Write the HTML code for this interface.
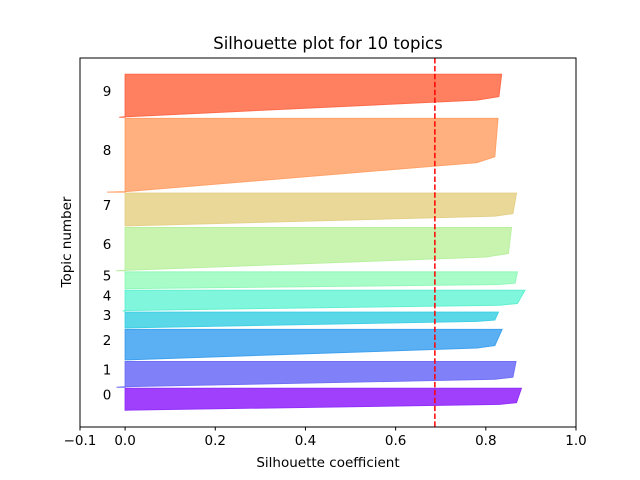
<!DOCTYPE html>
<html><head><meta charset="utf-8"><style>
html,body{margin:0;padding:0;background:#fff;}
svg{display:block;font-family:"DejaVu Sans","Liberation Sans",sans-serif;}
</style></head><body>
<svg id="chart" width="640" height="480" viewBox="0 0 640 480">
<rect x="0" y="0" width="640" height="480" fill="#fff"/>
<g id="bands"></g>
<g id="labels"></g>
<g id="avgline"></g>
<rect x="80" y="58" width="496" height="369" fill="none" stroke="#000" stroke-width="1"/>
<g id="xticks"></g>
<text x="328" y="49" text-anchor="middle" font-size="16.5" fill="#000">Silhouette plot for 10 topics</text>
<text x="328" y="467" text-anchor="middle" font-size="13.5" fill="#000">Silhouette coefficient</text>
<text x="0" y="0" transform="translate(71,242) rotate(-90)" text-anchor="middle" font-size="13.5" fill="#000">Topic number</text>
</svg>
<script>
// data
const topics = ["0","1","2","3","4","5","6","7","8","9"];
const clusterSizes = [22.4, 25.7, 31, 16.3, 20.7, 17.3, 43.3, 33.3, 73.7, 43];
const maxValues = [0.879, 0.867, 0.836, 0.828, 0.887, 0.87, 0.857, 0.868, 0.827, 0.835];
const kneeValues = [0.868, 0.86, 0.82, 0.82, 0.87, 0.865, 0.85, 0.86, 0.82, 0.829];
const shoulderValues = [0.83, 0.82, 0.78, 0.78, 0.83, 0.83, 0.8, 0.82, 0.78, 0.78];
const kneeFractions = [0.64, 0.61, 0.52, 0.49, 0.64, 0.65, 0.6, 0.61, 0.52, 0.52];
const minValues = [0, -0.019, 0, 0, -0.005, 0, -0.02, 0, -0.04, -0.013];
const averageScore = 0.687;
const xTicks = [-0.1, 0.0, 0.2, 0.4, 0.6, 0.8, 1.0];
const xTickLabels = ["\u22120.1", "0.0", "0.2", "0.4", "0.6", "0.8", "1.0"];
const colors = ["#a040fc","#8080f8","#5ab0f2","#5ad8e8","#80f6dc","#a8fcc8","#c8f4b0","#ead898","#ffb07e","#ff8060"];
const edgeColors = ["#9030f8","#7070f4","#40a0ee","#40d0e4","#60f0d0","#90f8b8","#b8f0a0","#e4d088","#ffa068","#ff6848"];
const yLowerStart = 16.3, bandGap = 1.08;

const NS = "http://www.w3.org/2000/svg";
function xS(v){ return 80 + (v + 0.1) / 1.1 * 496; }
function yS(v){ return 427 - v / 369 * 369; }
function mk(tag, attrs){ const e = document.createElementNS(NS, tag); for (const k in attrs) e.setAttribute(k, attrs[k]); return e; }

const bands = document.getElementById("bands");
const labels = document.getElementById("labels");
let yLower = yLowerStart;
for (let i = 0; i < topics.length; i++) {
  const size = clusterSizes[i];
  const yUpper = yLower + size;
  const yKnee = yUpper - kneeFractions[i] * size;
  const yShoulder = yKnee - 0.08 * size;
  const pts = [
    [xS(0), yS(yUpper)],
    [xS(maxValues[i]), yS(yUpper)],
    [xS(kneeValues[i]), yS(yKnee)],
    [xS(shoulderValues[i]), yS(yShoulder)],
    [xS(0), yS(yLower + 0.5)],
    [xS(minValues[i]), yS(yLower)],
    [xS(0), yS(yLower)]
  ];
  const p = mk("polygon", {points: pts.map(q => q[0].toFixed(1) + "," + q[1].toFixed(1)).join(" "), fill: colors[i], stroke: edgeColors[i], "stroke-width": "1"});
  
  
  bands.appendChild(p);
  const t = mk("text", {x: xS(-0.04), y: yS(yLower + 0.5 * size), "text-anchor": "middle", "font-size": "13.5", fill: "#000"});
  t.textContent = topics[i];
  
  
  labels.appendChild(t);
  yLower = yUpper + bandGap;
}

const line = mk("line", {x1: xS(averageScore), x2: xS(averageScore), y1: 58, y2: 427, stroke: "#ff0000", "stroke-width": "1.5", "stroke-dasharray": "5.5,2.4"});


document.getElementById("avgline").appendChild(line);

const xt = document.getElementById("xticks");
for (let i = 0; i < xTicks.length; i++) {
  const x = xS(xTicks[i]);
  const tk = mk("line", {x1: x, x2: x, y1: 427, y2: 430.5, stroke: "#000", "stroke-width": "1"});
  
  
  xt.appendChild(tk);
  const lb = mk("text", {x: x, y: 445, "text-anchor": "middle", "font-size": "13.5", fill: "#000"});
  lb.textContent = xTickLabels[i];
  
  
  xt.appendChild(lb);
}
</script>
</body></html>
